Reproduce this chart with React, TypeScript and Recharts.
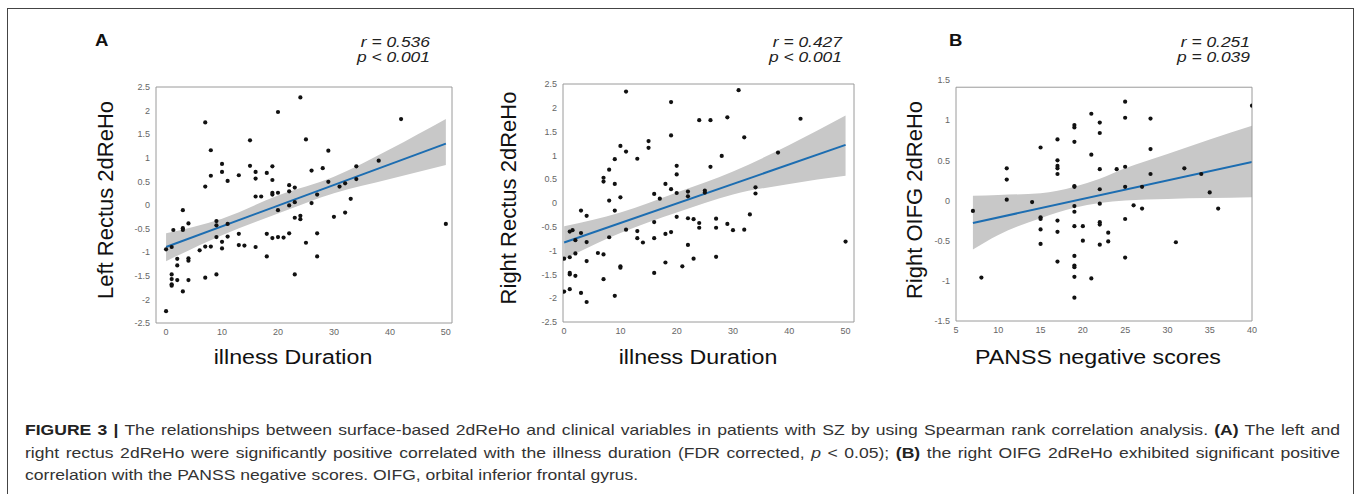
import React from 'react';
import { ComposedChart, Scatter, Area, Line, XAxis, YAxis, ReferenceLine } from 'recharts';

// Panel A, left: left rectus 2dReHo vs illness duration, [duration, value]
const leftRectusPts: [number, number][] = [
  [42, 1.82], [24, 2.28], [20, 1.97], [7, 1.75], [8, 1.16], [25, 1.39], [15, 1.37], [29, 1.15],
  [10, 0.87], [10, 0.7], [8, 0.62], [11, 0.51], [13, 0.63], [15, 0.83], [16, 0.7], [16, 0.56],
  [18, 0.68], [19, 0.82], [19, 0.53], [26, 0.73], [28, 0.78], [34, 0.82], [38, 0.94], [29, 0.49],
  [34, 0.55], [7, 0.39], [16, 0.18], [17, 0.18], [19, 0.26], [19, 0.22], [20, 0.26], [22, 0.42],
  [22, 0.29], [23, 0.37], [31, 0.39], [32, 0.46], [33, 0.13], [27, 0.22], [20, -0.11], [22, -0.01],
  [23, 0.06], [26, 0.04], [23, -0.27], [24, -0.23], [24, -0.3], [30, -0.25], [32, -0.16],
  [3, -0.11], [4, -0.39], [3, -0.49], [3, -0.53], [1.3, -0.53], [9, -0.34], [9, -0.43], [11, -0.4],
  [18, -0.61], [22, -0.6], [19, -0.7], [20, -0.68], [21, -0.69], [13, -0.61], [9, -0.68], [11, -0.67],
  [27, -0.6], [25, -0.8], [10, -0.78], [10, -0.92], [7, -0.88], [8, -0.88], [13, -0.85], [14, -0.86],
  [16, -0.89], [6, -0.96], [0, -0.94], [1, -0.89], [18, -1.09], [27, -1.09], [2, -1.14], [2, -1.28],
  [4, -1.13], [4, -1.18], [23, -1.47], [7, -1.54], [9, -1.47], [1, -1.47], [1, -1.57], [1, -1.68],
  [1, -1.71], [2, -1.59], [4, -1.59], [3, -1.83], [0, -2.25], [50, -0.4],
];
const leftFitX = [0, 50];
const leftFitY = [-0.89, 1.3];
const leftBandX = [0, 10, 20, 30, 40, 50];
const leftBandLo = [-1.19, -0.64, -0.18, 0.25, 0.55, 0.85];
const leftBandHi = [-0.6, -0.29, 0.2, 0.6, 1.18, 1.82];

// Panel A, right: right rectus 2dReHo vs illness duration
const rightRectusPts: [number, number][] = [
  [11, 2.34], [31, 2.37], [19, 2.12], [24, 1.74], [26, 1.74], [29, 1.8], [42, 1.77], [19, 1.42], [32, 1.38],
  [15, 1.3], [15, 1.16], [10, 1.2], [11, 1.08], [28, 0.99], [38, 1.06], [9, 0.92], [13, 0.93], [20, 0.78],
  [26, 0.76], [8, 0.7], [20, 0.6], [7, 0.53], [7, 0.45], [9, 0.4], [18, 0.4], [19, 0.29], [25, 0.26],
  [25, 0.22], [20, 0.21], [22, 0.24], [22, 0.14], [34, 0.33], [34, 0.2], [16, 0.19], [17, 0.09], [10, 0.12],
  [8, 0.05], [9, -0.16], [3, -0.16], [4, -0.27], [33, -0.24], [20, -0.29], [22, -0.32], [23, -0.34],
  [27, -0.33], [24, -0.42], [29, -0.44], [16, -0.4], [24, -0.52], [27, -0.52], [30, -0.57], [32, -0.56],
  [11, -0.56], [19, -0.61], [13, -0.59], [1, -0.6], [1.5, -0.57], [3, -0.63], [2, -0.78], [4, -0.82],
  [8, -0.72], [13, -0.74], [16, -0.74], [14, -0.83], [18, -0.65], [22, -0.88], [2, -1.06], [6, -1.05],
  [7, -1.08], [0, -1.17], [1, -1.14], [23, -1.17], [27, -1.13], [4, -1.22], [18, -1.25], [10, -1.33],
  [10, -1.36], [21, -1.33], [1, -1.47], [1, -1.5], [2, -1.53], [16, -1.47], [7, -1.6], [0, -1.86],
  [1, -1.81], [3, -1.89], [9, -1.95], [4, -2.08], [50, -0.81],
];
const rightFitX = [0, 50];
const rightFitY = [-0.83, 1.22];
const rightBandX = [0, 10, 20, 30, 40, 50];
const rightBandLo = [-1.18, -0.63, -0.2, 0.18, 0.4, 0.57];
const rightBandHi = [-0.49, -0.2, 0.22, 0.66, 1.22, 1.84];

// Panel B: right OIFG 2dReHo vs PANSS negative scores
const oifgPts: [number, number][] = [
  [7, -0.13], [8, -0.96], [11, 0.4], [11, 0.26], [11, 0.01], [14, -0.02], [15, 0.66], [15, -0.21],
  [15, -0.23], [15, -0.36], [15, -0.54], [17, 0.76], [17, 0.5], [17, 0.43], [17, 0.4], [17, 0.33],
  [17, -0.25], [17, -0.39], [17, -0.76], [19, 0.94], [19, 0.91], [19, 0.73], [19, 0.18], [19, 0.17],
  [19, -0.07], [19, -0.14], [19, -0.32], [19, -0.69], [19, -0.81], [19, -0.83], [19, -0.95], [19, -1.21],
  [20, -0.32], [20, -0.5], [21, 1.08], [21, -0.97], [21, 0.57], [22, 0.97], [22, 0.84], [22, 0.39],
  [22, 0.14], [22, -0.04], [22, -0.27], [22, -0.3], [22, -0.55], [23, -0.4], [23, -0.51], [24, 0.39],
  [25, 1.23], [25, 1.03], [25, 0.42], [25, 0.17], [25, -0.23], [25, -0.71], [26, -0.06], [27, 0.17],
  [27, -0.1], [28, 1.02], [28, 0.64], [28, 0.33], [31, -0.52], [32, 0.4], [34, 0.33], [35, 0.1],
  [36, -0.1], [40, 1.18],
];
const oifgFitX = [7, 40];
const oifgFitY = [-0.28, 0.48];
const oifgBandX = [7, 10, 15, 19, 22, 25, 30, 35, 40];
const oifgBandLo = [-0.61, -0.43, -0.22, -0.09, -0.03, 0.0, 0.02, 0.03, 0.04];
const oifgBandHi = [0.06, 0.07, 0.09, 0.17, 0.27, 0.4, 0.58, 0.76, 0.93];

const durationTicks = [0, 10, 20, 30, 40, 50];
const rectusTicks = [-2.5, -2, -1.5, -1, -0.5, 0, 0.5, 1, 1.5, 2, 2.5];
const panssTicks = [5, 10, 15, 20, 25, 30, 35, 40];
const oifgTicks = [-1.5, -1, -0.5, 0, 0.5, 1, 1.5];

const FONT = '"Liberation Sans", Arial, sans-serif';
const STRETCH = 1.16;
const GREY = '#9a9a9a';
const boxLine = { stroke: GREY };
const tickStyle = { fontSize: 9, fill: '#666', fontFamily: FONT };

const Dot = (p: any) => <circle cx={p.cx} cy={p.cy} r={2.1} fill="#111" />;

type Box = { left: number; top: number; width: number; height: number };

function Panel(props: {
  box: Box;
  pts: [number, number][];
  fitX: number[];
  fitY: number[];
  bandX: number[];
  bandLo: number[];
  bandHi: number[];
  xDomain: [number, number];
  xTicks: number[];
  yDomain: [number, number];
  yTicks: number[];
  boxTop?: number; // frame top sits below the top tick in panel B
}) {
  const { box, boxTop, xDomain, yDomain } = props;
  const points = props.pts.map(([x, y]) => ({ x, y }));
  const band = props.bandX.map((x, i) => ({ x, band: [props.bandLo[i], props.bandHi[i]] }));
  const fit = props.fitX.map((x, i) => ({ x, fit: props.fitY[i] }));
  const framed = boxTop !== undefined;

  return (
    <div style={{ position: 'absolute', left: box.left - 60, top: box.top - 20 }}>
      <ComposedChart
        width={box.width + 80}
        height={box.height + 50}
        margin={{ top: 20, right: 20, bottom: 0, left: 30 }}
      >
        <XAxis
          xAxisId="b"
          type="number"
          dataKey="x"
          domain={xDomain}
          ticks={props.xTicks}
          allowDataOverflow
          interval={0}
          height={30}
          tickSize={4}
          tickLine={false}
          axisLine={boxLine}
          tick={tickStyle}
        />
        <XAxis
          xAxisId="t"
          orientation="top"
          mirror
          hide={framed}
          type="number"
          dataKey="x"
          domain={xDomain}
          ticks={props.xTicks}
          allowDataOverflow
          interval={0}
          tickSize={3}
          tick={false}
          tickLine={boxLine}
          axisLine={boxLine}
        />
        <YAxis
          yAxisId="l"
          type="number"
          domain={yDomain}
          ticks={props.yTicks}
          allowDataOverflow
          interval={0}
          width={30}
          tickSize={4}
          tickLine={false}
          axisLine={framed ? false : boxLine}
          tick={tickStyle}
        />
        <YAxis
          yAxisId="r"
          orientation="right"
          mirror
          type="number"
          domain={yDomain}
          ticks={props.yTicks.filter((t) => !framed || t <= boxTop!)}
          allowDataOverflow
          interval={0}
          tickSize={3}
          tick={false}
          tickLine={boxLine}
          axisLine={framed ? false : boxLine}
        />
        <Area
          xAxisId="b"
          yAxisId="l"
          data={band}
          dataKey="band"
          type="monotone"
          stroke="none"
          fill="#c8c8c8"
          fillOpacity={1}
          isAnimationActive={false}
        />
        <Line
          xAxisId="b"
          yAxisId="l"
          data={fit}
          dataKey="fit"
          stroke="#1c6db1"
          strokeWidth={2}
          dot={false}
          isAnimationActive={false}
        />
        <Scatter xAxisId="b" yAxisId="l" data={points} dataKey="y" shape={Dot} isAnimationActive={false} />
        {framed && (
          <ReferenceLine
            xAxisId="b"
            yAxisId="l"
            segment={[{ x: xDomain[0], y: boxTop }, { x: xDomain[1], y: boxTop }]}
            stroke={GREY}
          />
        )}
        {framed && (
          <ReferenceLine
            xAxisId="b"
            yAxisId="l"
            segment={[{ x: xDomain[0], y: yDomain[0] }, { x: xDomain[0], y: boxTop }]}
            stroke={GREY}
          />
        )}
        {framed && (
          <ReferenceLine
            xAxisId="b"
            yAxisId="l"
            segment={[{ x: xDomain[1], y: yDomain[0] }, { x: xDomain[1], y: boxTop }]}
            stroke={GREY}
          />
        )}
      </ComposedChart>
    </div>
  );
}

const Stat = ({ right, r, p }: { right: number; r: string; p: string }) => (
  <div
    style={{
      position: 'absolute',
      right: 1357 - right,
      top: 34,
      fontFamily: FONT,
      fontStyle: 'italic',
      fontSize: 15,
      lineHeight: '15px',
      color: '#222',
      textAlign: 'right',
      whiteSpace: 'nowrap',
      transform: `scaleX(${STRETCH})`,
      transformOrigin: 'right',
    }}
  >
    <div>{r}</div>
    <div>{p}</div>
  </div>
);

const Letter = ({ left, text }: { left: number; text: string }) => (
  <div
    style={{
      position: 'absolute',
      left,
      top: 33,
      fontFamily: FONT,
      fontWeight: 'bold',
      fontSize: 16,
      lineHeight: '16px',
      color: '#111',
      transform: `scaleX(${STRETCH})`,
      transformOrigin: 'left',
    }}
  >
    {text}
  </div>
);

const YLabel = ({ cx, cy, text }: { cx: number; cy: number; text: string }) => (
  <div
    style={{
      position: 'absolute',
      left: cx,
      top: cy,
      fontFamily: FONT,
      fontSize: 22,
      lineHeight: '22px',
      color: '#111',
      whiteSpace: 'nowrap',
      transform: 'translate(-50%, -50%) rotate(-90deg)',
    }}
  >
    {text}
  </div>
);

const XLabel = ({ cx, cy, text }: { cx: number; cy: number; text: string }) => (
  <div
    style={{
      position: 'absolute',
      left: cx,
      top: cy,
      fontFamily: FONT,
      fontSize: 20,
      lineHeight: '20px',
      color: '#111',
      whiteSpace: 'nowrap',
      transform: `translate(-50%, -50%) scaleX(${STRETCH})`,
    }}
  >
    {text}
  </div>
);

const CAPTION_W = 1315 / 1.17;
const capLine: React.CSSProperties = {
  width: CAPTION_W,
  whiteSpace: 'nowrap',
  textAlign: 'justify',
  textAlignLast: 'justify',
};

export default function App() {
  return (
    <div style={{ position: 'absolute', left: 0, top: 0, width: 1357, height: 494, background: '#fff', overflow: 'hidden' }}>
      <div
        style={{
          position: 'absolute',
          left: 7,
          top: 8,
          width: 1347,
          height: 600,
          border: '1px solid #444',
          boxSizing: 'border-box',
        }}
      />

      <Letter left={95} text="A" />
      <Letter left={949} text="B" />

      <Stat right={430} r="r = 0.536" p="p < 0.001" />
      <Stat right={842} r="r = 0.427" p="p < 0.001" />
      <Stat right={1250} r="r = 0.251" p="p = 0.039" />

      <Panel
        box={{ left: 156, top: 87, width: 296, height: 236 }}
        pts={leftRectusPts}
        fitX={leftFitX}
        fitY={leftFitY}
        bandX={leftBandX}
        bandLo={leftBandLo}
        bandHi={leftBandHi}
        xDomain={[-1.8, 51.1]}
        xTicks={durationTicks}
        yDomain={[-2.5, 2.5]}
        yTicks={rectusTicks}
      />
      <Panel
        box={{ left: 563, top: 84, width: 291, height: 238 }}
        pts={rightRectusPts}
        fitX={rightFitX}
        fitY={rightFitY}
        bandX={rightBandX}
        bandLo={rightBandLo}
        bandHi={rightBandHi}
        xDomain={[-0.2, 51.5]}
        xTicks={durationTicks}
        yDomain={[-2.5, 2.5]}
        yTicks={rectusTicks}
      />
      <Panel
        box={{ left: 956, top: 80, width: 296, height: 241 }}
        pts={oifgPts}
        fitX={oifgFitX}
        fitY={oifgFitY}
        bandX={oifgBandX}
        bandLo={oifgBandLo}
        bandHi={oifgBandHi}
        xDomain={[5, 40]}
        xTicks={panssTicks}
        yDomain={[-1.5, 1.5]}
        yTicks={oifgTicks}
        boxTop={1.41}
      />

      <YLabel cx={106} cy={200} text="Left Rectus 2dReHo" />
      <YLabel cx={509} cy={198} text="Right Rectus 2dReHo" />
      <YLabel cx={915} cy={200} text="Right OIFG 2dReHo" />

      <XLabel cx={293} cy={357} text="illness Duration" />
      <XLabel cx={698} cy={357} text="illness Duration" />
      <XLabel cx={1098} cy={357} text="PANSS negative scores" />

      <div
        style={{
          position: 'absolute',
          left: 25,
          top: 419,
          fontFamily: FONT,
          fontSize: 15,
          lineHeight: '22.5px',
          color: '#333',
          transform: 'scaleX(1.17)',
          transformOrigin: 'left top',
        }}
      >
        <div style={capLine}>
          <b style={{ color: '#222' }}>FIGURE 3 |</b> The relationships between surface-based 2dReHo and clinical
          variables in patients with SZ by using Spearman rank correlation analysis.{' '}
          <b style={{ color: '#222' }}>(A)</b> The left and
        </div>
        <div style={capLine}>
          right rectus 2dReHo were significantly positive correlated with the illness duration (FDR corrected,{' '}
          <i>p</i> &lt; 0.05); <b style={{ color: '#222' }}>(B)</b> the right OIFG 2dReHo exhibited significant
          positive
        </div>
        <div style={{ whiteSpace: 'nowrap' }}>
          correlation with the PANSS negative scores. OIFG, orbital inferior frontal gyrus.
        </div>
      </div>
    </div>
  );
}
